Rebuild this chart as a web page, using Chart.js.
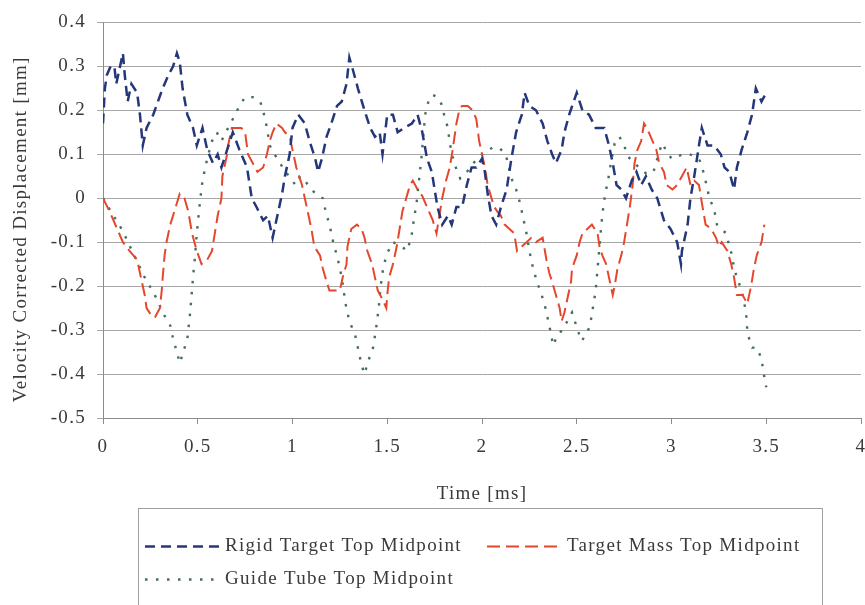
<!DOCTYPE html>
<html>
<head>
<meta charset="utf-8">
<script src="https://cdn.jsdelivr.net/npm/chart.js@4.4.1/dist/chart.umd.min.js"></script>
<style>
  html, body { margin: 0; padding: 0; background: #fff; }
</style>
</head>
<body>
<canvas id="disp-chart" width="865" height="605"></canvas>
<script>
// time [ms] / displacement [mm]
const rigidTime = [0, 0.01, 0.02, 0.04, 0.06, 0.07, 0.105, 0.115, 0.13, 0.15, 0.18, 0.195, 0.21, 0.23, 0.265, 0.29, 0.315, 0.345, 0.37, 0.39, 0.405, 0.42, 0.445, 0.475, 0.495, 0.525, 0.55, 0.58, 0.605, 0.625, 0.655, 0.685, 0.72, 0.76, 0.785, 0.81, 0.845, 0.87, 0.895, 0.92, 0.945, 0.96, 0.985, 1.0, 1.03, 1.065, 1.09, 1.12, 1.135, 1.155, 1.18, 1.205, 1.235, 1.26, 1.285, 1.3, 1.32, 1.345, 1.38, 1.41, 1.435, 1.46, 1.475, 1.5, 1.53, 1.555, 1.59, 1.63, 1.66, 1.685, 1.71, 1.735, 1.75, 1.765, 1.79, 1.82, 1.84, 1.865, 1.895, 1.92, 1.945, 1.97, 2.0, 2.015, 2.03, 2.05, 2.075, 2.1, 2.13, 2.155, 2.18, 2.21, 2.225, 2.25, 2.285, 2.32, 2.345, 2.37, 2.39, 2.42, 2.435, 2.46, 2.5, 2.53, 2.565, 2.6, 2.645, 2.67, 2.69, 2.71, 2.735, 2.76, 2.79, 2.815, 2.84, 2.865, 2.895, 2.925, 2.96, 2.995, 3.03, 3.05, 3.055, 3.085, 3.1, 3.12, 3.145, 3.16, 3.19, 3.225, 3.26, 3.28, 3.305, 3.33, 3.345, 3.37, 3.4, 3.425, 3.445, 3.475, 3.5];
const rigidDisp = [0.17, 0.25, 0.28, 0.3, 0.3, 0.26, 0.33, 0.28, 0.22, 0.26, 0.24, 0.19, 0.12, 0.16, 0.19, 0.22, 0.25, 0.28, 0.3, 0.33, 0.31, 0.25, 0.19, 0.16, 0.12, 0.16, 0.11, 0.08, 0.1, 0.07, 0.11, 0.15, 0.11, 0.07, 0, -0.02, -0.05, -0.04, -0.09, -0.04, 0.01, 0.05, 0.1, 0.16, 0.19, 0.17, 0.13, 0.09, 0.06, 0.09, 0.14, 0.17, 0.21, 0.22, 0.26, 0.32, 0.29, 0.25, 0.2, 0.16, 0.14, 0.15, 0.1, 0.19, 0.19, 0.15, 0.16, 0.17, 0.19, 0.15, 0.09, 0.06, 0.02, -0.02, -0.06, -0.04, -0.06, -0.02, -0.02, 0.03, 0.07, 0.07, 0.09, 0.06, 0.01, -0.04, -0.06, -0.02, 0.02, 0.09, 0.15, 0.19, 0.24, 0.21, 0.2, 0.17, 0.13, 0.1, 0.08, 0.11, 0.15, 0.19, 0.24, 0.2, 0.19, 0.16, 0.16, 0.12, 0.08, 0.03, 0.02, 0, 0.04, 0.06, 0.03, 0.05, 0.02, 0, -0.05, -0.07, -0.1, -0.15, -0.12, -0.06, 0, 0.05, 0.12, 0.16, 0.12, 0.12, 0.1, 0.07, 0.06, 0.02, 0.07, 0.11, 0.15, 0.19, 0.25, 0.22, 0.24];

const massTime = [0, 0.035, 0.075, 0.105, 0.14, 0.18, 0.195, 0.205, 0.22, 0.23, 0.26, 0.275, 0.3, 0.31, 0.315, 0.325, 0.335, 0.355, 0.38, 0.405, 0.43, 0.45, 0.47, 0.495, 0.52, 0.55, 0.575, 0.59, 0.605, 0.625, 0.63, 0.655, 0.66, 0.68, 0.705, 0.73, 0.75, 0.765, 0.79, 0.815, 0.845, 0.865, 0.88, 0.895, 0.915, 0.945, 0.96, 0.985, 1.0, 1.02, 1.05, 1.065, 1.08, 1.1, 1.115, 1.145, 1.16, 1.18, 1.195, 1.225, 1.25, 1.265, 1.285, 1.29, 1.31, 1.34, 1.365, 1.38, 1.395, 1.42, 1.435, 1.45, 1.475, 1.495, 1.5, 1.51, 1.53, 1.55, 1.565, 1.58, 1.6, 1.62, 1.635, 1.66, 1.685, 1.71, 1.74, 1.76, 1.775, 1.79, 1.81, 1.83, 1.845, 1.855, 1.865, 1.88, 1.895, 1.925, 1.95, 1.97, 1.985, 2.0, 2.015, 2.03, 2.05, 2.065, 2.08, 2.1, 2.12, 2.145, 2.17, 2.185, 2.21, 2.235, 2.26, 2.285, 2.32, 2.34, 2.355, 2.37, 2.39, 2.41, 2.42, 2.435, 2.45, 2.47, 2.475, 2.5, 2.515, 2.53, 2.555, 2.58, 2.61, 2.62, 2.635, 2.655, 2.67, 2.69, 2.7, 2.715, 2.735, 2.75, 2.765, 2.78, 2.795, 2.805, 2.82, 2.84, 2.855, 2.87, 2.9, 2.92, 2.935, 2.96, 2.975, 3.005, 3.03, 3.055, 3.08, 3.1, 3.12, 3.145, 3.16, 3.18, 3.21, 3.235, 3.25, 3.265, 3.295, 3.315, 3.33, 3.345, 3.375, 3.4, 3.42, 3.435, 3.45, 3.475, 3.49];
const massDisp = [0, -0.03, -0.07, -0.1, -0.12, -0.14, -0.17, -0.19, -0.22, -0.25, -0.27, -0.27, -0.25, -0.21, -0.18, -0.13, -0.1, -0.06, -0.025, 0.01, 0, -0.03, -0.08, -0.12, -0.15, -0.14, -0.12, -0.08, -0.04, 0, 0.05, 0.1, 0.12, 0.16, 0.16, 0.16, 0.15, 0.1, 0.08, 0.06, 0.07, 0.1, 0.13, 0.15, 0.17, 0.16, 0.15, 0.14, 0.11, 0.07, 0.03, 0, -0.03, -0.07, -0.11, -0.13, -0.16, -0.19, -0.21, -0.21, -0.21, -0.18, -0.15, -0.11, -0.07, -0.06, -0.07, -0.09, -0.12, -0.15, -0.18, -0.21, -0.23, -0.25, -0.22, -0.18, -0.15, -0.11, -0.07, -0.03, 0, 0.03, 0.04, 0.02, 0.005, -0.02, -0.05, -0.08, -0.04, 0, 0.04, 0.07, 0.11, 0.14, 0.17, 0.2, 0.21, 0.21, 0.2, 0.18, 0.13, 0.1, 0.07, 0.03, 0, -0.02, -0.03, -0.04, -0.06, -0.07, -0.08, -0.12, -0.11, -0.1, -0.09, -0.1, -0.09, -0.14, -0.17, -0.19, -0.22, -0.25, -0.28, -0.26, -0.23, -0.19, -0.16, -0.13, -0.1, -0.08, -0.07, -0.06, -0.08, -0.11, -0.13, -0.15, -0.18, -0.22, -0.2, -0.16, -0.13, -0.1, -0.06, -0.02, 0.03, 0.08, 0.11, 0.13, 0.17, 0.16, 0.13, 0.11, 0.08, 0.06, 0.03, 0.02, 0.03, 0.05, 0.07, 0.03, 0.04, 0.03, -0.01, -0.06, -0.07, -0.09, -0.11, -0.1, -0.12, -0.15, -0.18, -0.22, -0.22, -0.24, -0.2, -0.16, -0.13, -0.1, -0.06];

const tubeTime = [0, 0.105, 0.17, 0.22, 0.26, 0.285, 0.315, 0.355, 0.37, 0.39, 0.405, 0.42, 0.445, 0.46, 0.475, 0.485, 0.495, 0.51, 0.525, 0.55, 0.575, 0.6, 0.625, 0.66, 0.685, 0.72, 0.75, 0.79, 0.83, 0.85, 0.865, 0.88, 0.905, 0.935, 0.96, 0.985, 1.015, 1.04, 1.065, 1.1, 1.135, 1.16, 1.175, 1.195, 1.215, 1.24, 1.26, 1.28, 1.3, 1.33, 1.35, 1.365, 1.38, 1.4, 1.425, 1.44, 1.455, 1.465, 1.48, 1.5, 1.53, 1.555, 1.58, 1.6, 1.625, 1.64, 1.655, 1.67, 1.68, 1.69, 1.7, 1.72, 1.74, 1.765, 1.785, 1.8, 1.82, 1.83, 1.845, 1.865, 1.885, 1.92, 1.945, 1.975, 2.015, 2.055, 2.09, 2.125, 2.145, 2.16, 2.18, 2.2, 2.215, 2.235, 2.25, 2.27, 2.29, 2.315, 2.335, 2.35, 2.365, 2.375, 2.4, 2.425, 2.45, 2.475, 2.505, 2.525, 2.55, 2.57, 2.585, 2.6, 2.61, 2.62, 2.63, 2.64, 2.65, 2.665, 2.68, 2.7, 2.725, 2.75, 2.77, 2.805, 2.84, 2.87, 2.905, 2.925, 2.95, 2.97, 3.0, 3.03, 3.06, 3.095, 3.125, 3.15, 3.165, 3.185, 3.2, 3.225, 3.24, 3.26, 3.29, 3.305, 3.32, 3.33, 3.345, 3.37, 3.385, 3.395, 3.4, 3.41, 3.425, 3.45, 3.475, 3.485, 3.5];
const tubeDisp = [0, -0.075, -0.135, -0.18, -0.21, -0.23, -0.26, -0.29, -0.32, -0.35, -0.375, -0.355, -0.32, -0.26, -0.18, -0.135, -0.08, -0.015, 0.04, 0.09, 0.13, 0.15, 0.13, 0.16, 0.18, 0.21, 0.23, 0.23, 0.22, 0.19, 0.16, 0.12, 0.1, 0.08, 0.06, 0.05, 0.03, 0.05, 0.04, 0.02, 0.005, 0, -0.03, -0.06, -0.1, -0.14, -0.18, -0.24, -0.28, -0.31, -0.35, -0.38, -0.4, -0.37, -0.34, -0.3, -0.25, -0.2, -0.155, -0.125, -0.1, -0.105, -0.11, -0.12, -0.095, -0.05, -0.01, 0.05, 0.09, 0.14, 0.19, 0.225, 0.235, 0.23, 0.215, 0.19, 0.16, 0.125, 0.095, 0.065, 0.045, 0.06, 0.075, 0.09, 0.105, 0.115, 0.115, 0.1, 0.065, 0.04, 0.02, -0.01, -0.04, -0.08, -0.12, -0.16, -0.19, -0.22, -0.25, -0.28, -0.31, -0.335, -0.31, -0.3, -0.28, -0.26, -0.3, -0.325, -0.31, -0.29, -0.25, -0.21, -0.16, -0.11, -0.06, -0.02, 0.01, 0.04, 0.08, 0.125, 0.14, 0.12, 0.095, 0.08, 0.065, 0.055, 0.06, 0.09, 0.125, 0.11, 0.09, 0.095, 0.1, 0.1, 0.095, 0.085, 0.065, 0.03, 0, -0.025, -0.06, -0.07, -0.08, -0.11, -0.13, -0.16, -0.18, -0.21, -0.24, -0.27, -0.3, -0.32, -0.34, -0.34, -0.365, -0.395, -0.43];

const seriesLabels = ['Rigid Target Top Midpoint', 'Target Mass Top Midpoint', 'Guide Tube Top Midpoint'];

const serif = "'Liberation Serif', 'Times New Roman', serif";
const textColor = '#3a3a3a';

const toPoints = (xs, ys) => xs.map((x, i) => ({ x: x, y: ys[i] }));

// canvas letter spacing, the original text is quite wide
const spacingPlugin = {
  id: 'spacing',
  beforeDraw(chart) {
    chart.ctx.letterSpacing = '1.3px';
  }
};

// legend drawn in a box below the axis title
const boxLegend = {
  id: 'boxLegend',
  afterDraw(chart) {
    const ctx = chart.ctx;
    const sets = chart.data.datasets;
    const spots = [[145, 546], [487, 546], [145, 579]];
    ctx.save();
    ctx.strokeStyle = '#a0a0a0';
    ctx.lineWidth = 1;
    ctx.strokeRect(138.5, 508.5, 684, 100);
    ctx.font = '19px ' + serif;
    ctx.textBaseline = 'middle';
    ctx.textAlign = 'left';
    sets.forEach((ds, i) => {
      const [x, y] = spots[i];
      ctx.beginPath();
      ctx.setLineDash(ds.borderDash);
      ctx.strokeStyle = ds.borderColor;
      ctx.lineWidth = ds.borderWidth;
      ctx.moveTo(x, y + 0.5);
      ctx.lineTo(x + 76, y + 0.5);
      ctx.stroke();
      ctx.setLineDash([]);
      ctx.fillStyle = textColor;
      ctx.fillText(ds.label, x + 80, y);
    });
    ctx.restore();
  }
};

new Chart(document.getElementById('disp-chart'), {
  type: 'line',
  data: {
    datasets: [{
      label: seriesLabels[0],
      data: toPoints(rigidTime, rigidDisp),
      borderColor: '#24377a',
      borderWidth: 2.5,
      borderDash: [10, 6]
    }, {
      label: seriesLabels[1],
      data: toPoints(massTime, massDisp),
      borderColor: '#e5472d',
      borderWidth: 2,
      borderDash: [13, 6]
    }, {
      label: seriesLabels[2],
      data: toPoints(tubeTime, tubeDisp),
      borderColor: '#456f5c',
      borderWidth: 2.4,
      borderDash: [2.5, 8.5]
    }]
  },
  options: {
    responsive: false,
    animation: false,
    devicePixelRatio: 1,
    layout: {
      padding: { top: 20, right: 0, bottom: 0, left: 0 }
    },
    elements: {
      point: { radius: 0 },
      line: { tension: 0, fill: false }
    },
    plugins: {
      legend: { display: false },
      tooltip: { enabled: false }
    },
    scales: {
      x: {
        type: 'linear',
        min: 0,
        max: 4,
        afterFit: scale => {
          scale.height = 187;
          scale.paddingRight = 4;
          scale.paddingLeft = 0;
        },
        ticks: {
          stepSize: 0.5,
          padding: 12,
          color: textColor,
          font: { family: serif, size: 19 },
          maxRotation: 0,
          callback: value => String(Math.round(value * 10) / 10)
        },
        grid: {
          drawOnChartArea: false,
          tickLength: 6,
          color: '#8c8c8c'
        },
        border: { display: true, color: '#8c8c8c' },
        title: {
          display: true,
          text: 'Time [ms]',
          color: textColor,
          font: { family: serif, size: 19 },
          padding: { top: 0, bottom: 100 }
        }
      },
      y: {
        min: -0.5,
        max: 0.4,
        afterFit: scale => { scale.width = 103; },
        ticks: {
          stepSize: 0.1,
          padding: 11,
          color: textColor,
          font: { family: serif, size: 19 },
          callback: value => Math.abs(value) < 1e-9 ? '0' : value.toFixed(1)
        },
        grid: {
          tickLength: 6,
          color: '#a8a8a8'
        },
        border: { display: true, color: '#8c8c8c' },
        title: {
          display: true,
          // trailing spaces nudge the rotated title down a little
          text: 'Velocity Corrected Displacement [mm]   ',
          color: textColor,
          font: { family: serif, size: 19 },
          padding: { top: 10, bottom: 0 }
        }
      }
    }
  },
  plugins: [spacingPlugin, boxLegend]
});
</script>
</body>
</html>
